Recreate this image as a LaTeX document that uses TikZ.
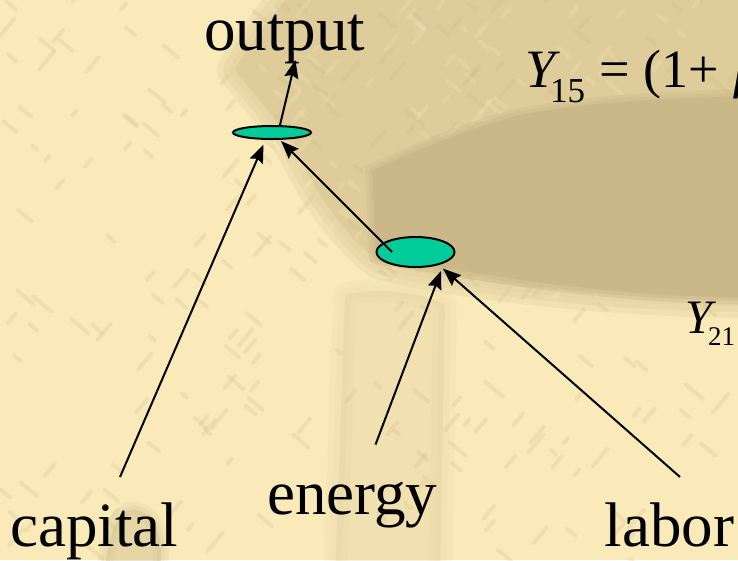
\documentclass[tikz,border=0pt]{standalone}
\usepackage{fontspec}
\setmainfont{Liberation Serif}
\usetikzlibrary{shapes.geometric,arrows.meta,calc}
\definecolor{cream}{RGB}{250,234,186}
\definecolor{midtan}{RGB}{222,205,154}
\definecolor{darktan}{RGB}{202,184,136}
\definecolor{texdark}{RGB}{200,180,128}
\definecolor{texlight}{RGB}{250,236,192}
\definecolor{teal}{RGB}{0,204,153}
\tikzset{
  blob/.style={ellipse, draw=black, line width=2pt, fill=teal, inner sep=0pt},
  arr/.style={line width=2pt, -{Stealth[length=18pt,width=14pt,inset=2.5pt]}},
  lbl/.style={inner sep=0pt, anchor=base west, font=\fontsize{63}{70}\selectfont},
  big/.style={inner sep=0pt, anchor=base west, font=\fontsize{54}{60}\selectfont},
  sub/.style={inner sep=0pt, anchor=base west, font=\fontsize{35}{40}\selectfont},
  bigb/.style={inner sep=0pt, anchor=base west, font=\fontsize{48}{54}\selectfont},
  subb/.style={inner sep=0pt, anchor=base west, font=\fontsize{27}{30}\selectfont},
  texd/.style={draw=texdark, opacity=0.2, line width=4pt, line cap=round},
  texl/.style={draw=texlight, opacity=0.22, line width=4pt, line cap=round},
  midshape/.style={insert path={(300,-20) -- (760,-20) -- (760,300) .. controls (600,300) and (450,280) .. (380,262)
    .. controls (350,240) and (320,200) .. (300,160) .. controls (280,120) and (250,90) .. (235,70)
    .. controls (250,40) and (280,10) .. (300,-20) -- cycle}},
  darkshape/.style={insert path={(372,171) .. controls (400,158) and (460,130) .. (520,115)
    .. controls (590,102) and (660,98) .. (760,96) -- (760,298)
    .. controls (660,297) and (565,288) .. (470,272) .. controls (430,265) and (395,260) .. (376,257)
    -- cycle}},
  bandshape/.style={insert path={(345,295) .. controls (370,288) and (420,290) .. (445,305)
    -- (440,580) -- (335,580) -- cycle}},
  patchshape/.style={insert path={(138,510) .. controls (160,518) and (165,545) .. (158,580)
    -- (105,580) .. controls (105,545) and (115,505) .. (138,510) -- cycle}}
}
\begin{document}
\begin{tikzpicture}[x=1pt,y=-1pt]
\useasboundingbox (0,0) rectangle (738,560);
% ---------- background ----------
\begin{scope}
\clip (0,0) rectangle (738,560);
\fill[cream] (0,0) rectangle (738,560);
% medium region (feathered)
\foreach \w in {36,24,12}{\draw[midtan, opacity=0.3, line width=\w pt, line join=round, midshape];}
\fill[midtan, midshape];
% vertical band near energy
\foreach \w in {24,12}{\draw[midtan, opacity=0.12, line width=\w pt, line join=round, bandshape];}
\fill[midtan, opacity=0.3, bandshape];
% patch near capital
\foreach \w in {16,8}{\draw[darktan, opacity=0.15, line width=\w pt, line join=round, patchshape];}
\fill[darktan, opacity=0.4, patchshape];
% texture
\pgfmathsetseed{11}
\foreach \i in {1,...,240}{
  \pgfmathsetmacro\xx{rnd*738}
  \pgfmathsetmacro\yy{rnd*560}
  \pgfmathsetmacro\ll{6+rnd*18}
  \pgfmathsetmacro\aa{(rnd<0.5)?40:-50}
  \draw[texd] (\xx,\yy) -- ++(\aa:\ll);
}
\foreach \i in {1,...,140}{
  \pgfmathsetmacro\xx{250+rnd*488}
  \pgfmathsetmacro\yy{rnd*300}
  \pgfmathsetmacro\ll{5+rnd*14}
  \pgfmathsetmacro\aa{(rnd<0.5)?40:-50}
  \draw[texl] (\xx,\yy) -- ++(\aa:\ll);
}
% dark blob (feathered)
\foreach \w in {14,7}{\draw[darktan, opacity=0.35, line width=\w pt, line join=round, darkshape];}
\fill[darktan, darkshape];
\end{scope}
% ---------- labels ----------
\node[lbl] (out) at (204,50) {output};
\node[lbl] (cap) at (10,546) {capital};
\node[lbl] (ene) at (267,514) {energy};
\node[lbl] (lab) at (604.5,546) {labor};
% formulas
\node[big] (y15) at (525,87) {\itshape Y};
\node[sub] (s15) at (550,102) {15};
\node[big] (eq15) at (599.5,87) {=};
\node[big] (par15) at (643,87) {(1+};
\node[big] (bet15) at (734,87) {\itshape β};
\node[bigb] (y21) at (685,333) {\itshape Y};
\node[subb] (s21) at (708,345) {21};
% ---------- nodes ----------
\node[blob, minimum width=78pt, minimum height=13pt] (e1) at (272,132.5) {};
\node[blob, minimum width=78pt, minimum height=30pt] (e2) at (415.5,252) {};
% ---------- connectors ----------
\coordinate (capS) at (120,477);
\coordinate (eneS) at (375.5,444.6);
\coordinate (labS) at (680,477);
\coordinate (outT) at (295.5,60);
\draw[arr] ($(e1.center)+(8,-7.5)$) -- (outT);
\draw[arr] (capS) -- ($(e1.center)+(-8.5,12.1)$);
\draw[arr] ($(e2.center)+(-23.5,0)$) -- ($(e1.center)+(9,8.5)$);
\draw[arr] (eneS) -- ($(e2.center)+(25.5,19)$);
\draw[arr] (labS) -- ($(e2.center)+(27.5,16.6)$);
\end{tikzpicture}
\end{document}
